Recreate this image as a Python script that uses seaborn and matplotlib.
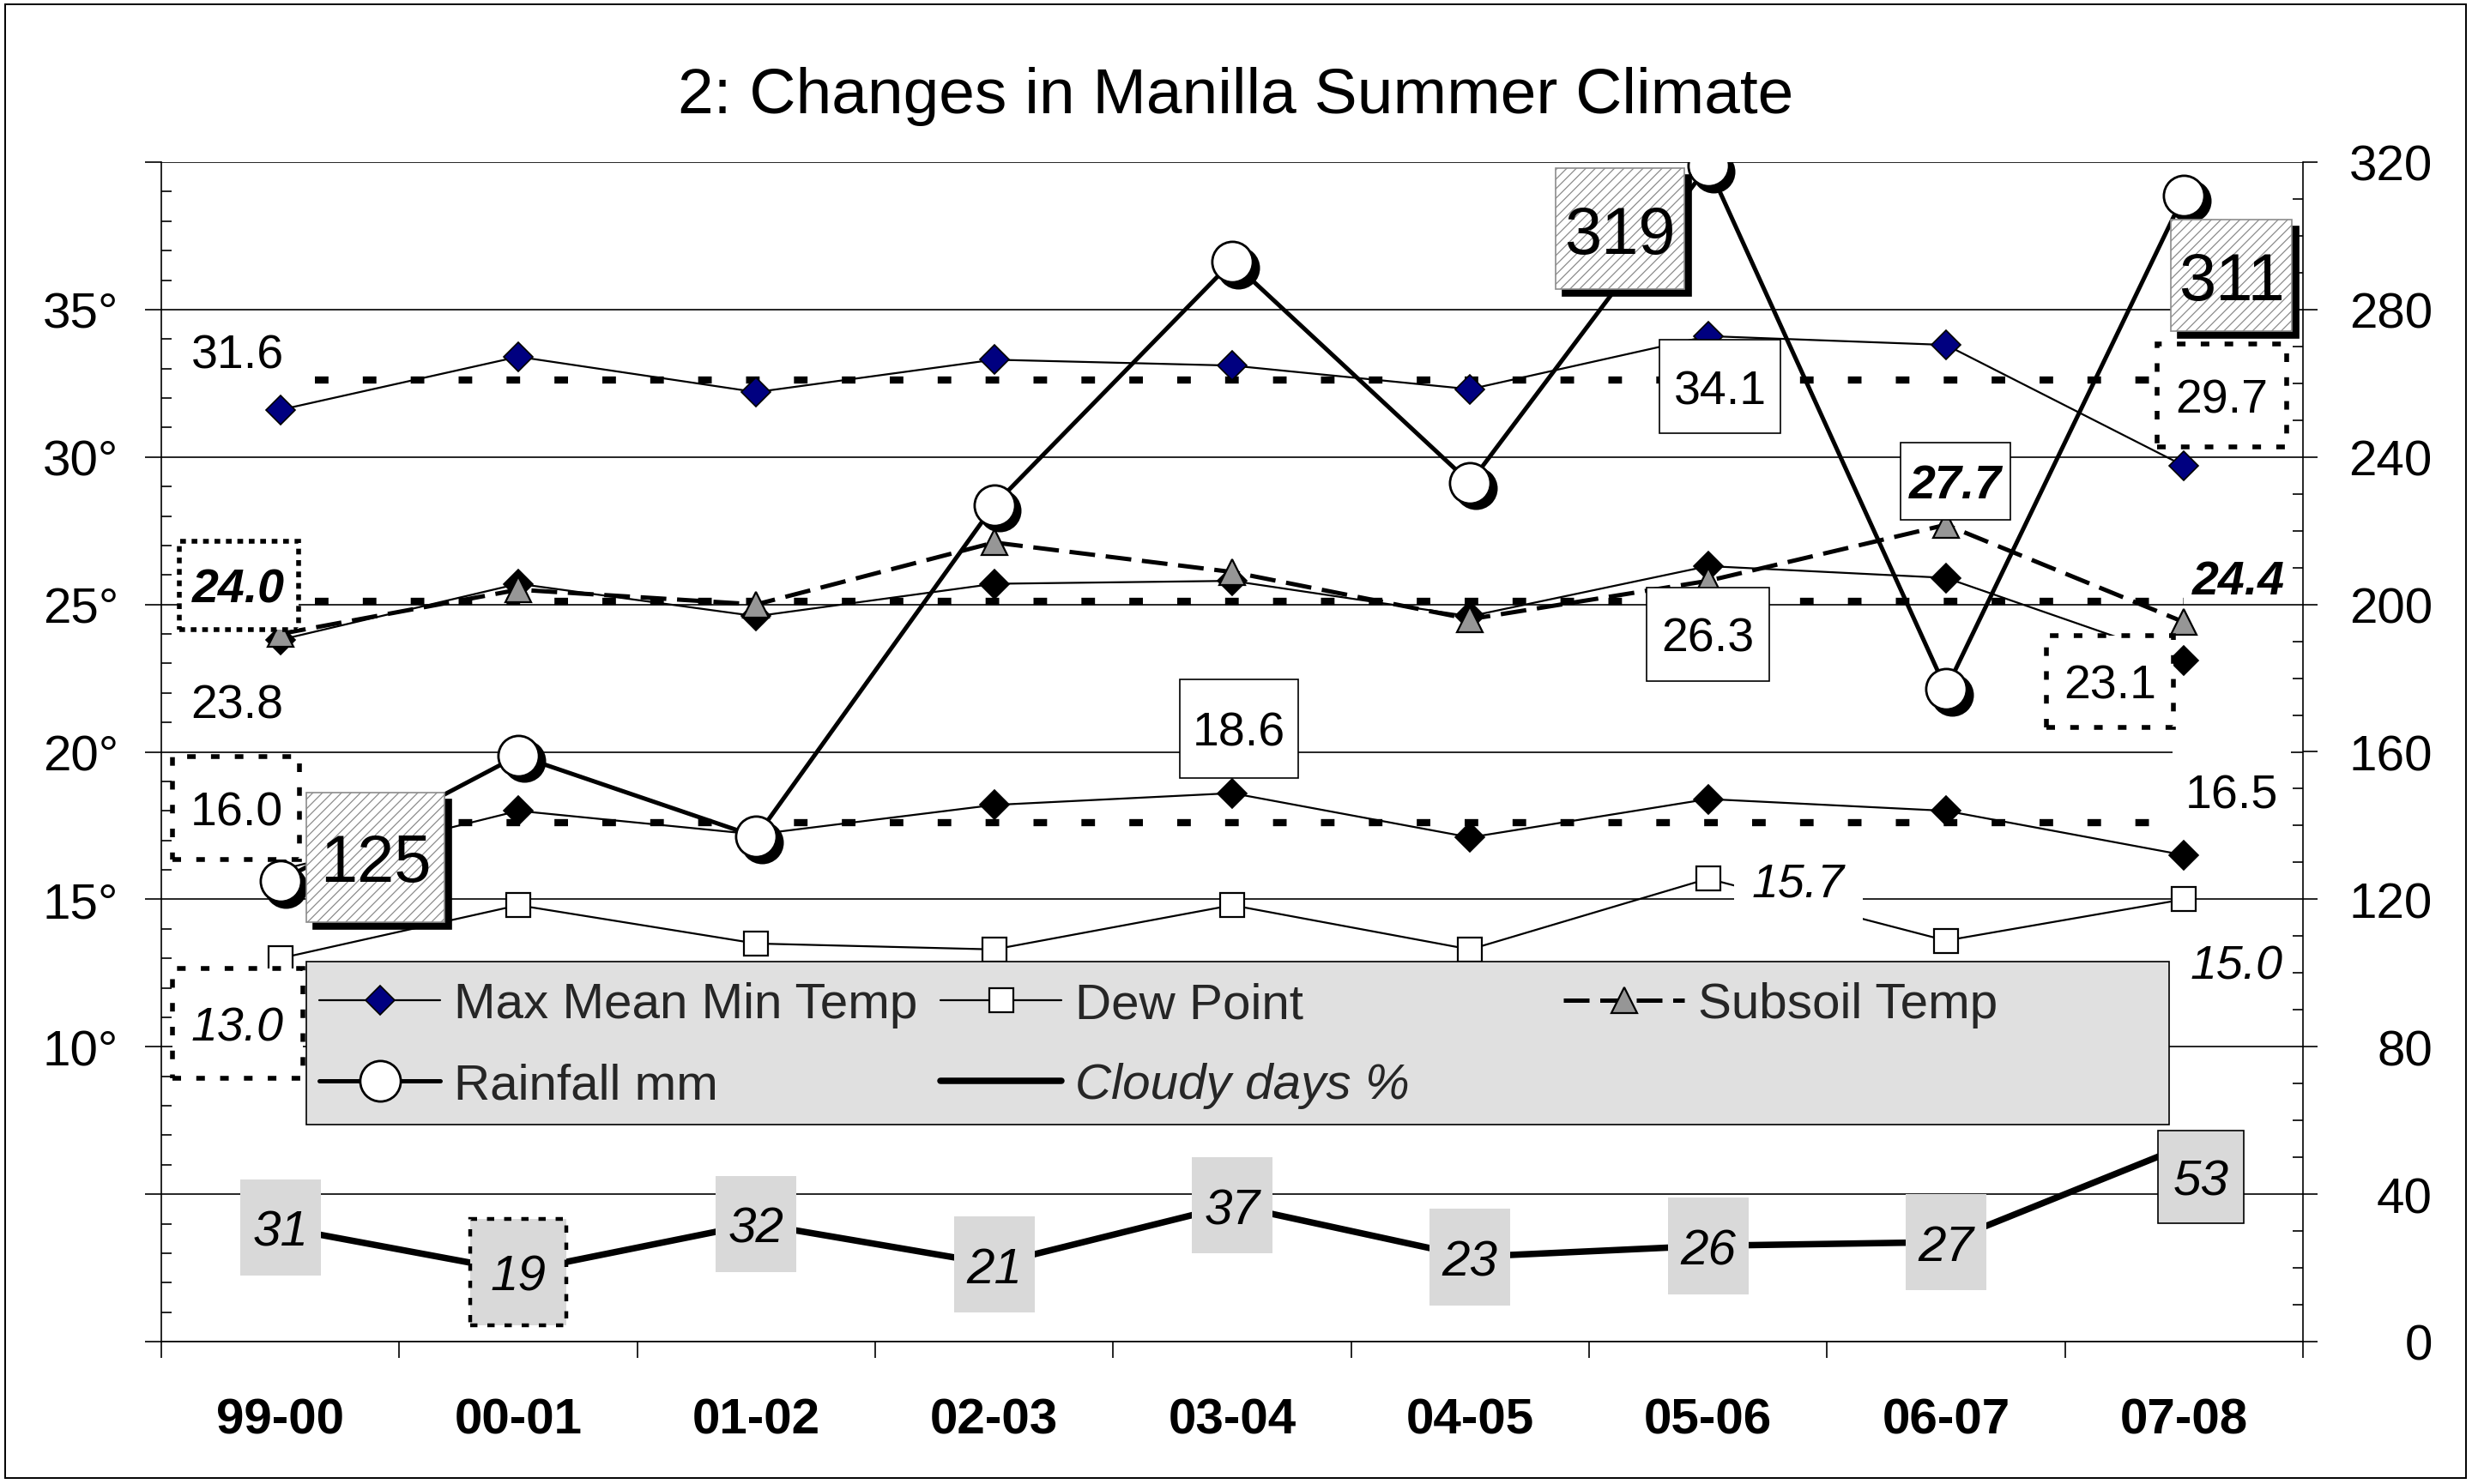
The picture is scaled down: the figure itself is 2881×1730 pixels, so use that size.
import numpy as np
import pandas as pd
import matplotlib
matplotlib.use("Agg")
import matplotlib.pyplot as plt
import seaborn as sns
from matplotlib.path import Path
from matplotlib.patches import Rectangle
from matplotlib.lines import Line2D
from matplotlib.transforms import offset_copy
from matplotlib.ticker import MultipleLocator, FixedLocator, FuncFormatter
from matplotlib.patheffects import AbstractPathEffect, Normal

# ---------------- data ----------------
categories = ['99-00', '00-01', '01-02', '02-03', '03-04', '04-05', '05-06', '06-07', '07-08']
max_temp = [31.6, 33.4, 32.2, 33.3, 33.1, 32.3, 34.1, 33.8, 29.7]
mean_temp = [23.8, 25.7, 24.6, 25.7, 25.8, 24.6, 26.3, 25.9, 23.1]
min_temp = [16.0, 18.0, 17.2, 18.2, 18.6, 17.1, 18.4, 18.0, 16.5]
dew_point = [13.0, 14.8, 13.5, 13.3, 14.8, 13.3, 15.7, 13.6, 15.0]
subsoil_temp = [24.0, 25.5, 25.0, 27.1, 26.1, 24.5, 25.8, 27.7, 24.4]
rainfall = [125, 159, 137, 227, 293, 233, 319, 177, 311]
cloudy_days = [31, 19, 32, 21, 37, 23, 26, 27, 53]
average_lines = [32.6, 25.1, 17.6]   # max, mean, min averages
title = "2: Changes in Manilla Summer Climate"

df = pd.DataFrame({
    "pos": np.arange(len(categories)),
    "max": max_temp, "mean": mean_temp, "min": min_temp,
    "dew": dew_point, "subsoil": subsoil_temp,
    "rain": rainfall, "cloudy": cloudy_days,
})

# ---------------- figure ----------------
W, H, DPI = 2881, 1731, 200
sns.set_theme(style="ticks")
plt.rcParams['font.family'] = ['Liberation Sans', 'DejaVu Sans']
plt.rcParams['hatch.linewidth'] = 0.45
plt.rcParams['axes.edgecolor'] = 'black'

fig = plt.figure(figsize=(W / DPI, H / DPI), dpi=DPI, facecolor='white')
ax = fig.add_axes([188 / W, 1 - 1565 / H, (2684 - 188) / W, (1565 - 190) / H])
ax2 = ax.twinx()

NAVY = '#000080'
TRI = '#969696'

# average (dotted) lines
ax.hlines(average_lines, 0, len(categories) - 1, colors='black', linewidth=3.0,
          linestyles=[(1.9, (1.9, 4.8))], zorder=2.5)

# temperature series (left axis)
sns.lineplot(data=df, x="pos", y="max", ax=ax, color='black', linewidth=0.8,
             marker='D', markersize=8.7, markerfacecolor=NAVY,
             markeredgecolor='black', markeredgewidth=0.6, zorder=4)
sns.lineplot(data=df, x="pos", y="mean", ax=ax, color='black', linewidth=0.8,
             marker='D', markersize=8.7, markerfacecolor='black',
             markeredgecolor='black', markeredgewidth=0.6, zorder=4)
sns.lineplot(data=df, x="pos", y="min", ax=ax, color='black', linewidth=0.8,
             marker='D', markersize=8.7, markerfacecolor='black',
             markeredgecolor='black', markeredgewidth=0.6, zorder=4)
sns.lineplot(data=df, x="pos", y="dew", ax=ax, color='black', linewidth=0.8,
             marker='s', markersize=10, markerfacecolor='white',
             markeredgecolor='black', markeredgewidth=0.8, zorder=4)
sns.lineplot(data=df, x="pos", y="subsoil", ax=ax, color='black', linewidth=1.8,
             linestyle=(0, (6, 2.5)), marker='^', markersize=11,
             markerfacecolor=TRI, markeredgecolor='black', markeredgewidth=0.8, zorder=4.2)

# rainfall & cloudy (right axis)
shadow_tr = offset_copy(ax2.transData, fig=fig, x=2.4, y=-2.4, units='points')
ax2.plot(df["pos"], df["rain"], ls='none', marker='o', ms=17, mfc='black',
         mec='black', transform=shadow_tr, zorder=3.9)
sns.lineplot(data=df, x="pos", y="rain", ax=ax2, color='black', linewidth=1.8,
             marker='o', markersize=17, markerfacecolor='white',
             markeredgecolor='black', markeredgewidth=1.0, zorder=4)
sns.lineplot(data=df, x="pos", y="cloudy", ax=ax2, color='black', linewidth=2.7,
             zorder=4)

# ---------------- axes styling ----------------
n = len(categories)
ax.set_xlim(-0.5, n - 0.5)
ax.set_ylim(0, 40)
ax2.set_ylim(0, 320)
for a in (ax, ax2):
    a.set_xlabel('')
    a.set_ylabel('')

ax.set_xticks(np.arange(n))
ax.set_xticklabels(categories, fontsize=21, fontweight='bold')
ax.xaxis.set_minor_locator(FixedLocator(np.arange(-0.5, n, 1.0)))
ax.tick_params(axis='x', which='major', length=0, pad=23.4, colors='black')
ax.tick_params(axis='x', which='minor', direction='out', length=6.8, width=0.6,
               color='black', bottom=True)

ax.yaxis.set_major_locator(MultipleLocator(5))
ax.yaxis.set_minor_locator(MultipleLocator(1))
ax.yaxis.set_major_formatter(FuncFormatter(
    lambda v, p: f"{int(round(v))}°" if 10 <= v <= 35 else ""))
ax.tick_params(axis='y', which='major', direction='out', length=6.8, width=0.6,
               labelsize=21, pad=11.2, colors='black', left=True, right=False)
ax.tick_params(axis='y', which='minor', direction='in', length=4.3, width=0.6,
               color='black', left=True, right=False)
ax.grid(True, axis='y', which='major', color='black', linewidth=0.6)

ax2.yaxis.set_major_locator(MultipleLocator(40))
ax2.yaxis.set_minor_locator(MultipleLocator(10))
ax2.yaxis.set_major_formatter(FuncFormatter(lambda v, p: f"{int(round(v))}"))
ax2.tick_params(axis='y', which='major', direction='out', length=6.1, width=0.6,
                labelsize=21, pad=48.2, colors='black', right=True)
ax2.tick_params(axis='y', which='minor', direction='in', length=4.3, width=0.6,
                color='black', right=True)
plt.setp(ax2.get_yticklabels(), ha='right')

for s in ('top', 'right'):
    ax.spines[s].set_visible(False)
for s in ('left', 'bottom'):
    ax.spines[s].set_linewidth(0.6)
    ax.spines[s].set_color('black')
for s in ('top', 'left', 'bottom'):
    ax2.spines[s].set_visible(False)
ax2.spines['right'].set_linewidth(0.6)
ax2.spines['right'].set_color('black')


# ---------------- labels ----------------
def rect_box(padx, pady, shift=0.1):
    def _box(x0, y0, width, height, mutation_size):
        px = padx * mutation_size
        pb = (pady - shift) * mutation_size
        pt = (pady + shift) * mutation_size
        xa, xb = x0 - px, x0 + width + px
        ya, yb = y0 - pb, y0 + height + pt
        return Path([(xa, ya), (xb, ya), (xb, yb), (xa, yb), (xa, ya)], closed=True)
    return _box


class BoxShadow(AbstractPathEffect):
    """Solid black drop shadow for a label box (no hatch)."""
    def __init__(self, offset=(2.9, -2.9)):
        super().__init__(offset)

    def draw_path(self, renderer, gc, tpath, affine, rgbFace=None):
        gc0 = renderer.new_gc()
        gc0.copy_properties(gc)
        gc0.set_hatch(None)
        gc0.set_foreground('black')
        gc0.set_dashes(0, None)
        renderer.draw_path(gc0, tpath, affine + self._offset_transform(renderer),
                           (0, 0, 0, 1))
        gc0.restore()


def draw_label(x, y, text, trans, size, fstyle='normal', weight='normal',
               fc='white', ec='none', lw=0.6, ls='solid', padx=0.3, pady=0.4,
               hatch=None, shadow=False, z=7):
    bbox = None
    if fc != 'none' or ec != 'none':
        bbox = dict(boxstyle=rect_box(padx, pady), fc=fc, ec=ec, lw=lw, ls=ls)
        if hatch:
            bbox['hatch'] = hatch
    t = ax2.text(x, y, text, transform=trans, color='black', fontsize=size,
                 fontstyle=fstyle, fontweight=weight, ha='center',
                 va='center_baseline', zorder=z, bbox=bbox)
    if shadow and t.get_bbox_patch() is not None:
        t.get_bbox_patch().set_path_effects([BoxShadow((2.9, -2.9)), Normal()])
    return t


series_font = {"max": ('normal', 'normal'), "mean": ('normal', 'normal'),
               "min": ('normal', 'normal'), "subsoil": ('italic', 'bold'),
               "dew": ('italic', 'normal')}
box_styles = {
    "plain": dict(fc='white', ec='none'),
    "none": dict(fc='none', ec='none'),
    "box": dict(fc='white', ec='black', lw=0.6),
    "dot": dict(fc='white', ec='black', lw=2.0, ls=(0, (1.8, 3.2))),
    "dash": dict(fc='white', ec='black', lw=2.0, ls=(0, (1.2, 1.2))),
}
# (series, index, dx, dy, box style, padx, pady)
temp_labels = [
    ("max", 0, -0.18, 2.0, "plain", 0.27, 0.38),
    ("max", 6, 0.05, -1.7, "box", 0.30, 0.51),
    ("max", 8, 0.16, 2.4, "dot", 0.39, 0.61),
    ("mean", 0, -0.18, -2.05, "plain", 0.27, 0.38),
    ("mean", 6, 0.0, -2.3, "box", 0.31, 0.52),
    ("mean", 8, -0.31, -0.7, "dot", 0.36, 0.49),
    ("subsoil", 0, -0.175, 1.66, "dash", 0.28, 0.46),
    ("subsoil", 7, 0.04, 1.5, "box", 0.18, 0.34),
    ("subsoil", 8, 0.23, 1.55, "none", 0.2, 0.2),
    ("min", 0, -0.185, 2.1, "dot", 0.36, 0.61),
    ("min", 4, 0.03, 2.2, "box", 0.27, 0.57),
    ("min", 8, 0.2, 2.2, "plain", 0.27, 0.38),
    ("dew", 0, -0.18, -2.2, "dot", 0.40, 0.68),
    ("dew", 6, 0.38, 0.0, "plain", 0.38, 0.60),
    ("dew", 8, 0.22, -2.1, "none", 0.2, 0.2),
]
for key, i, dx, dy, bs, px, py in temp_labels:
    fs, fw = series_font[key]
    draw_label(df["pos"][i] + dx, df[key][i] + dy, f"{df[key][i]:.1f}", ax.transData,
               20, fs, fw, padx=px, pady=py, **box_styles[bs])

# rainfall labels (hatched, shadowed)
rain_labels = [(0, 0.40, 6.5, 0.20, 0.50), (6, -0.37, -17, 0.13, 0.44),
               (8, 0.20, -21.7, 0.11, 0.37)]
for i, dx, dy, px, py in rain_labels:
    draw_label(df["pos"][i] + dx, df["rain"][i] + dy, f"{df['rain'][i]:d}", ax2.transData,
               28, fc='white', ec='#8c8c8c', lw=0.6, padx=px, pady=py,
               hatch='//////', shadow=True, z=7.5)

# cloudy labels
for i, v in enumerate(cloudy_days):
    dx, dy, ec, lw, ls, px, py = 0.0, 0.0, 'none', 0.6, 'solid', 0.25, 0.50
    if i == 1:
        ec, lw, ls, px, py = 'black', 1.6, (0, (1.9, 2.6)), 0.40, 0.60
    if i == n - 1:
        dx, dy, ec, px, py = 0.07, -8.3, 'black', 0.30, 0.46
    draw_label(df["pos"][i] + dx, v + dy, f"{v:d}", ax2.transData, 21, 'italic',
               'normal', fc='#d9d9d9', ec=ec, lw=lw, ls=ls, padx=px, pady=py, z=7)

# ---------------- legend ----------------
leg_bg = Rectangle((357 / W, 1 - 1312 / H), (2528 - 357) / W, (1312 - 1122) / H,
                   transform=fig.transFigure, fc='#e0e0e0', ec='black', lw=0.6,
                   zorder=5.5, clip_on=False)
ax2.add_patch(leg_bg)

h_max = Line2D([], [], color='black', lw=0.8, marker='D', ms=8.7, mfc=NAVY, mec='black', mew=0.6)
h_rain = Line2D([], [], color='black', lw=1.8, marker='o', ms=17, mfc='white', mec='black', mew=1.0)
h_dew = Line2D([], [], color='black', lw=0.8, marker='s', ms=10, mfc='white', mec='black', mew=0.8)
h_cloud = Line2D([], [], color='black', lw=2.7)
h_sub = Line2D([], [], color='black', lw=1.8, ls=(0, (6, 2.5)), marker='^', ms=11,
               mfc=TRI, mec='black', mew=0.8)

leg_kw = dict(frameon=False, fontsize=21, handlelength=2.42, handletextpad=0.27,
              borderpad=0, borderaxespad=0, labelspacing=0.69, loc='upper left',
              bbox_transform=fig.transFigure, numpoints=1)
leg_top = 1 - 1145 / H
leg1 = ax2.legend([h_max, h_rain], ['Max Mean Min Temp', 'Rainfall mm'],
                  bbox_to_anchor=(372 / W, leg_top), **leg_kw)
leg1.set_zorder(6)
ax2.add_artist(leg1)
leg2 = ax2.legend([h_dew, h_cloud], ['Dew Point', 'Cloudy days %'],
                  bbox_to_anchor=(1096 / W, leg_top), **leg_kw)
leg2.get_texts()[1].set_fontstyle('italic')
leg2.set_zorder(6)
ax2.add_artist(leg2)
leg3 = ax2.legend([h_sub], ['Subsoil Temp'],
                  bbox_to_anchor=(1822 / W, leg_top), **leg_kw)
leg3.set_zorder(6)

# ---------------- title & border ----------------
fig.text(0.5, 1 - 132 / H, title, ha='center', va='baseline', fontsize=27, color='black')
fig.patches.append(Rectangle((6 / W, 1 - 1724 / H), (2874 - 6) / W, (1724 - 6) / H,
                             transform=fig.transFigure, fill=False, ec='black', lw=0.7))

fig.savefig("out.png", dpi=DPI, facecolor='white')
